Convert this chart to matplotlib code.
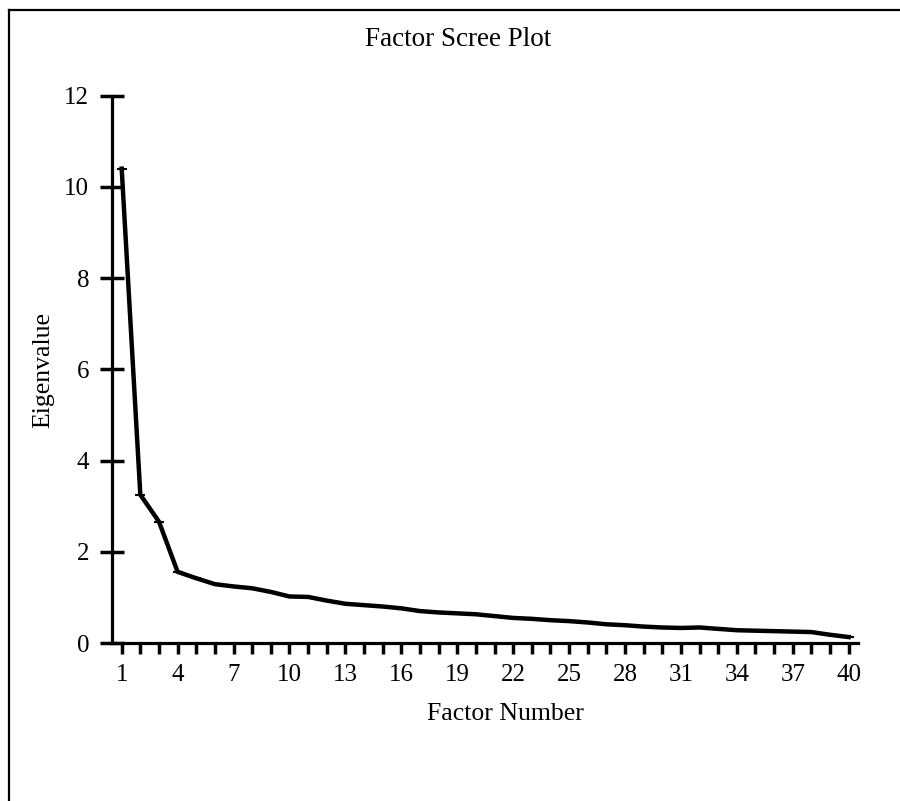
import matplotlib
matplotlib.use("Agg")
import matplotlib.pyplot as plt
from matplotlib.lines import Line2D

# eigenvalues
factor_number = list(range(1, 41))
eigenvalues = [10.40, 3.25, 2.66, 1.56, 1.42, 1.29, 1.24, 1.20, 1.12, 1.02,
               1.01, 0.93, 0.86, 0.83, 0.80, 0.76, 0.70, 0.67, 0.65, 0.63,
               0.59, 0.55, 0.53, 0.50, 0.48, 0.45, 0.41, 0.39, 0.36, 0.34,
               0.33, 0.34, 0.31, 0.28, 0.27, 0.26, 0.25, 0.24, 0.18, 0.13]
x_tick_labels = [1, 4, 7, 10, 13, 16, 19, 22, 25, 28, 31, 34, 37, 40]
y_ticks = [0, 2, 4, 6, 8, 10, 12]

plt.rcParams['font.family'] = ['Liberation Serif', 'DejaVu Serif']

fig = plt.figure(figsize=(9, 8.01), dpi=100)
ax = fig.add_axes([112 / 900, 1 - 643 / 801, (858 - 112) / 900, (643 - 95.7) / 801])

ax.plot(factor_number, eigenvalues, color='black', lw=3.2, marker='_',
        markersize=7, markeredgewidth=1.5, clip_on=False, solid_joinstyle='miter')

ax.set_xlim(0.48, 40.5)
ax.set_ylim(0, 12)

for side in ['top', 'right']:
    ax.spines[side].set_visible(False)
for side in ['left', 'bottom']:
    ax.spines[side].set_linewidth(2.3)

ax.set_yticks(y_ticks)
ax.set_xticks(factor_number)
ax.set_xticklabels([str(n) if n in x_tick_labels else '' for n in factor_number])
ax.tick_params(axis='y', direction='inout', length=17, width=2.5, pad=8, labelsize=18)
ax.tick_params(axis='x', direction='out', length=8, width=2.5, pad=7, labelsize=18)

fig.text(458 / 900, 1 - 39 / 801, 'Factor Scree Plot', ha='center', va='center', fontsize=19.5)
fig.text(505 / 900, 1 - 714 / 801, 'Factor Number', ha='center', va='center', fontsize=18.5)
fig.text(43 / 900, 1 - 370 / 801, 'Eigenvalue', ha='center', va='center', rotation=90, fontsize=18.5)

# page frame (only top and left edges are visible in the scan)
fig.add_artist(Line2D([9 / 900, 9 / 900], [0, 1 - 10 / 801], transform=fig.transFigure, color='black', lw=1.6))
fig.add_artist(Line2D([9 / 900, 1], [1 - 10 / 801, 1 - 10 / 801], transform=fig.transFigure, color='black', lw=1.6))

fig.savefig('out.png', dpi=100)
